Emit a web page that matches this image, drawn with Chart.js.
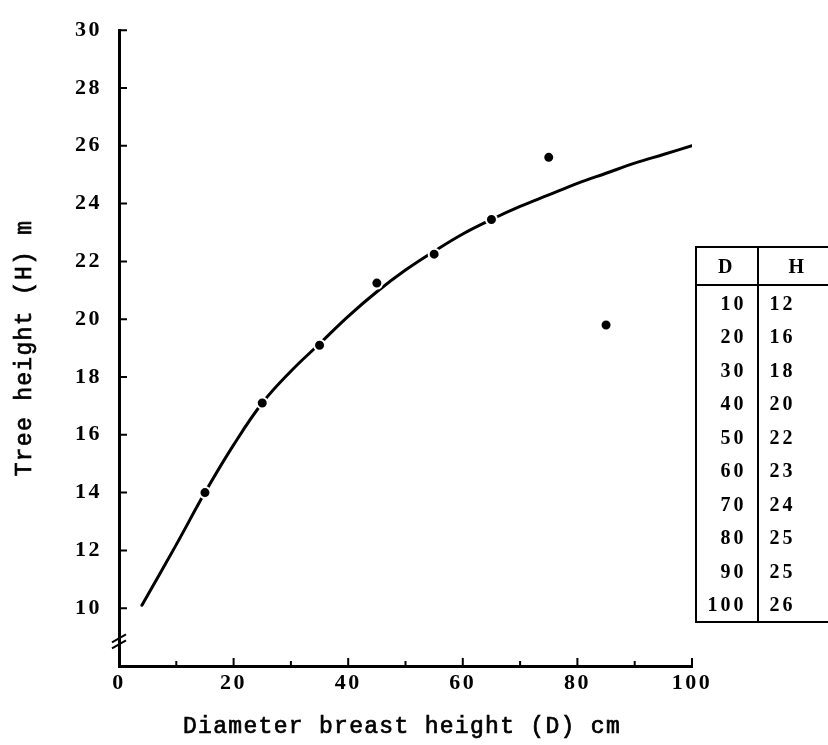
<!DOCTYPE html>
<html>
<head>
<meta charset="utf-8">
<script src="https://cdn.jsdelivr.net/npm/chart.js@4.4.1/dist/chart.umd.min.js"></script>
<style>
  html, body { margin: 0; padding: 0; background: #fff; overflow: hidden; }
  #wrap { position: relative; width: 828px; height: 745px; }
  #tbl {
    position: absolute; left: 695px; top: 246px;
    border-collapse: collapse;
    font: bold 20px 'Liberation Serif', serif; letter-spacing: 3px; color: #000;
  }
  #tbl th, #tbl td { padding: 0; height: 33.5px; line-height: 20px; }
  #tbl th { height: 36px; font-weight: bold; border-bottom: 2px solid #000; }
  #tbl .d { width: 60px; border-left: 2px solid #000; border-right: 2px solid #000; text-align: right; padding-right: 10px; }
  #tbl .h { width: 60px; text-align: left; padding-left: 11px; }
  #tbl th.d { text-align: center; padding-left: 5px; padding-right: 5px; }
  #tbl th.h { text-align: left; padding-left: 30px; }
  #tbl thead tr { border-top: 2px solid #000; }
  #tbl tbody tr:last-child td { border-bottom: 2px solid #000; }
</style>
</head>
<body>
<div id="wrap">
  <canvas id="chart" width="828" height="745"></canvas>
  <table id="tbl">
    <thead><tr><th class="d">D</th><th class="h">H</th></tr></thead>
    <tbody></tbody>
  </table>
</div>
<script>
// measured points
const pointD = [15, 25, 35, 45, 55, 65, 75, 85];
const pointH = [14.0, 17.1, 19.1, 21.25, 22.25, 23.45, 25.6, 19.8];

// fitted curve
const curveD = [4, 10, 15, 20, 25, 30, 35, 40, 45, 50, 55, 60, 65, 70, 75, 80, 85, 90, 95, 100];
const curveH = [10.1, 12.2, 14.0, 15.65, 17.1, 18.2, 19.15, 20.1, 20.95, 21.7, 22.35, 22.95, 23.45, 23.9, 24.3, 24.7, 25.05, 25.4, 25.7, 26.0];

// table on the right
const tableD = [10, 20, 30, 40, 50, 60, 70, 80, 90, 100];
const tableH = [12, 16, 18, 20, 22, 23, 24, 25, 25, 26];

const tbody = document.querySelector('#tbl tbody');
tableD.forEach((d, i) => {
  const tr = document.createElement('tr');
  tr.innerHTML = '<td class="d">' + d + '</td><td class="h">' + tableH[i] + '</td>';
  tbody.appendChild(tr);
});

// inward ticks, axis break and axis titles
const axisExtras = {
  id: 'axisExtras',
  beforeDraw(chart) {
    chart.ctx.letterSpacing = '2.5px';
  },
  afterDraw(chart) {
    const ctx = chart.ctx;
    const x = chart.scales.x, y = chart.scales.y;
    const left = chart.chartArea.left, bottom = chart.chartArea.bottom;
    ctx.save();
    ctx.strokeStyle = '#000';
    ctx.lineWidth = 2;
    ctx.beginPath();
    x.ticks.forEach(t => {
      if (t.value === 0) return;
      const px = x.getPixelForValue(t.value);
      const len = t.value % 20 === 0 ? 8 : 5;
      ctx.moveTo(px, bottom);
      ctx.lineTo(px, bottom - len);
    });
    y.ticks.forEach(t => {
      if (t.value < 10) return;
      const py = y.getPixelForValue(t.value);
      ctx.moveTo(left, py);
      ctx.lineTo(left + 8, py);
    });
    ctx.stroke();

    // axis break
    const by = y.getPixelForValue(8.85);
    ctx.beginPath();
    [-3, 3].forEach(o => {
      ctx.moveTo(left - 7, by + 4 + o);
      ctx.lineTo(left + 7, by - 4 + o);
    });
    ctx.stroke();

    // titles
    ctx.fillStyle = '#000';
    ctx.strokeStyle = '#000';
    ctx.lineWidth = 0.7;
    ctx.font = '23px "Liberation Mono", monospace';
    ctx.letterSpacing = '1.3px';
    ctx.textAlign = 'center';
    ctx.textBaseline = 'middle';
    ctx.fillText('Diameter breast height (D) cm', 402, 727);
    ctx.strokeText('Diameter breast height (D) cm', 402, 727);
    ctx.translate(25, 348);
    ctx.rotate(-Math.PI / 2);
    ctx.fillText('Tree height (H) m', 0, 0);
    ctx.strokeText('Tree height (H) m', 0, 0);
    ctx.restore();
    ctx.letterSpacing = '0px';
  }
};

const tickFont = { family: "'Liberation Serif', serif", size: 22, weight: 'bold' };

new Chart(document.getElementById('chart'), {
  type: 'scatter',
  data: {
    datasets: [
      {
        label: 'observed',
        data: pointD.map((d, i) => ({ x: d, y: pointH[i] })),
        backgroundColor: '#000',
        borderColor: '#fff',
        borderWidth: 2,
        pointRadius: 5.5,
        pointHoverRadius: 5.5
      },
      {
        label: 'curve',
        data: curveD.map((d, i) => ({ x: d, y: curveH[i] })),
        showLine: true,
        borderColor: '#000',
        borderWidth: 3,
        borderCapStyle: 'round',
        tension: 0.4,
        pointRadius: 0
      }
    ]
  },
  options: {
    responsive: false,
    animation: false,
    devicePixelRatio: 1,
    layout: { padding: { top: 22, right: 136, left: 0, bottom: 0 } },
    plugins: { legend: { display: false }, tooltip: { enabled: false } },
    scales: {
      x: {
        type: 'linear',
        min: 0,
        max: 100,
        afterFit: s => { s.height = 79; },
        grid: { display: false, drawTicks: false },
        border: { display: true, color: '#000', width: 3 },
        ticks: {
          stepSize: 10,
          autoSkip: false,
          maxRotation: 0,
          padding: 4,
          color: '#000',
          font: tickFont,
          callback: v => (v % 20 === 0 ? v : '')
        }
      },
      y: {
        min: 8,
        max: 30,
        afterFit: s => { s.width = 119; },
        grid: { display: false, drawTicks: false },
        border: { display: true, color: '#000', width: 3 },
        ticks: {
          stepSize: 2,
          autoSkip: false,
          padding: 17,
          color: '#000',
          font: tickFont,
          callback: v => (v >= 10 ? v : '')
        }
      }
    }
  },
  plugins: [axisExtras]
});
</script>
</body>
</html>
